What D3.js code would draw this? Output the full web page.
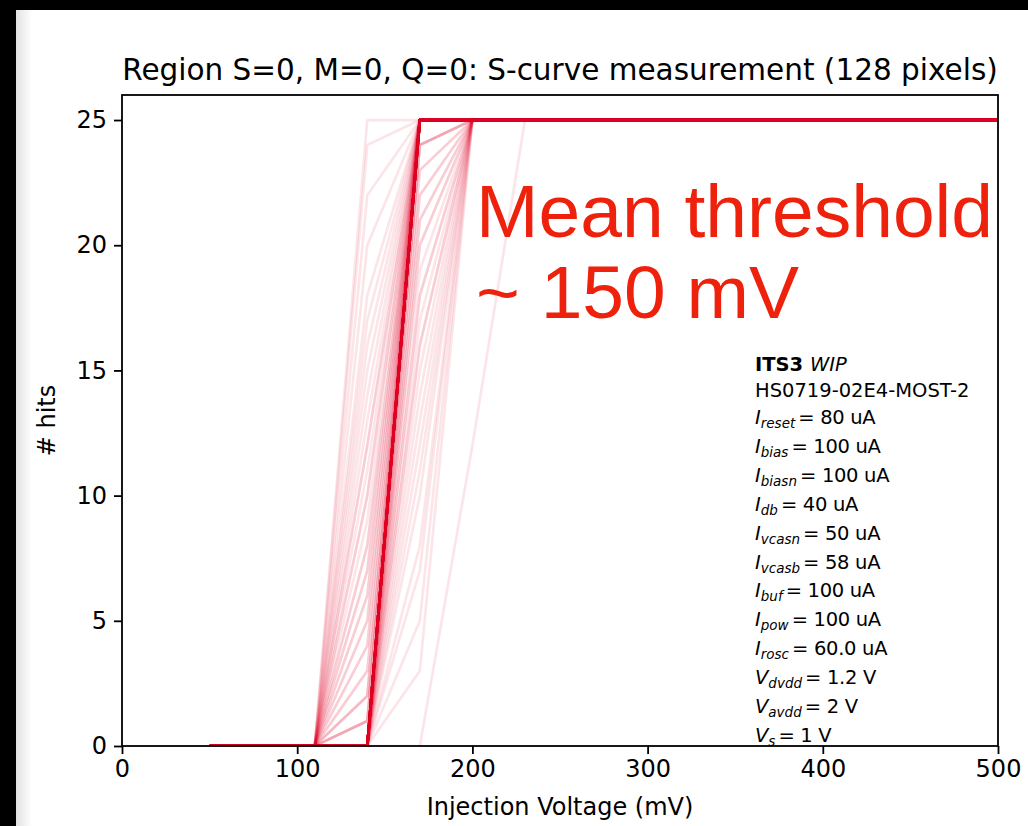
<!DOCTYPE html>
<html>
<head>
<meta charset="utf-8">
<script src="https://cdn.jsdelivr.net/npm/d3@7"></script>
<style>
  html, body { margin: 0; padding: 0; background: #000; }
  svg { display: block; }
  .tick text { font-family: "DejaVu Sans", sans-serif; }
</style>
</head>
<body>
<div id="chart"></div>
<script>
const fullwidth = 1028;
const fullheight = 826;
const margin = {top: 95, left: 122};

// injection voltages scanned (mV)
const voltages = [50, 80, 110, 140, 170, 200, 230, 260, 290, 320, 350, 380, 410, 440, 470, 500];
// hits at the voltages where the pixels switch on; below 110 mV every pixel has 0 hits, above 230 mV all 25
const riseVoltages = [110, 140, 170, 200, 230];
const maxHits = 25;
// pixel response shapes, with the number of pixels sharing each shape
const shapeHits = [
  [0, 0, 25, 25, 25],
  [0, 25, 25, 25, 25], [0, 24, 25, 25, 25], [0, 22, 25, 25, 25], [0, 20, 25, 25, 25],
  [0, 18, 25, 25, 25], [0, 17, 25, 25, 25], [0, 16, 25, 25, 25], [0, 15, 25, 25, 25],
  [0, 14, 25, 25, 25], [0, 13, 25, 25, 25], [0, 12, 25, 25, 25], [0, 11, 25, 25, 25],
  [0, 10, 25, 25, 25], [0, 9, 25, 25, 25], [0, 8, 25, 25, 25], [0, 7, 25, 25, 25],
  [0, 6, 25, 25, 25], [0, 5, 25, 25, 25], [0, 4, 25, 25, 25], [0, 3, 25, 25, 25],
  [0, 2, 25, 25, 25], [0, 1, 25, 25, 25],
  [0, 0, 24, 25, 25], [0, 0, 23, 25, 25], [0, 0, 22, 25, 25], [0, 0, 21, 25, 25],
  [0, 0, 20, 25, 25], [0, 0, 19, 25, 25], [0, 0, 18, 25, 25], [0, 0, 17, 25, 25],
  [0, 0, 16, 25, 25], [0, 0, 15, 25, 25], [0, 0, 14, 25, 25], [0, 0, 13, 25, 25],
  [0, 0, 12, 25, 25], [0, 0, 11, 25, 25], [0, 0, 10, 25, 25], [0, 0, 8, 25, 25],
  [0, 0, 7, 25, 25], [0, 0, 5, 25, 25], [0, 0, 3, 25, 25],
  [0, 0, 0, 12, 25]
];
const shapeCounts = [
  64,
  1, 1, 1, 1,
  1, 1, 1, 1,
  1, 1, 2, 1,
  2, 1, 2, 2,
  2, 2, 2, 2,
  3, 4,
  4, 2, 2, 2,
  2, 1, 2, 1,
  2, 1, 1, 1,
  1, 1, 1, 1,
  1, 1, 1,
  1
];
const xTicks = [0, 100, 200, 300, 400, 500];
const yTicks = [0, 5, 10, 15, 20, 25];

const titleText = "Region S=0, M=0, Q=0: S-curve measurement (128 pixels)";
// info box: [symbol, subscript, value]
const infoParams = [
  ["I", "reset", "= 80 uA"],
  ["I", "bias", "= 100 uA"],
  ["I", "biasn", "= 100 uA"],
  ["I", "db", "= 40 uA"],
  ["I", "vcasn", "= 50 uA"],
  ["I", "vcasb", "= 58 uA"],
  ["I", "buf", "= 100 uA"],
  ["I", "pow", "= 100 uA"],
  ["I", "rosc", "= 60.0 uA"],
  ["V", "dvdd", "= 1.2 V"],
  ["V", "avdd", "= 2 V"],
  ["V", "s", "= 1 V"]
];

// build every pixel's curve
const curves = [];
shapeHits.forEach((h, i) => {
  const pts = voltages.map(v => {
    const k = riseVoltages.indexOf(v);
    if (k >= 0) return [v, h[k]];
    return [v, v < riseVoltages[0] ? 0 : maxHits];
  });
  for (let n = 0; n < shapeCounts[i]; ++n) curves.push(pts);
});

const plotW = 998 - margin.left;
const plotH = 746 - margin.top;

const svg = d3.select("#chart").append("svg")
  .attr("width", fullwidth)
  .attr("height", fullheight);

// screenshot frame: black border and soft shadow on the left
const defs = svg.append("defs");
const shade = defs.append("linearGradient").attr("id", "shade").attr("x1", "0%").attr("x2", "100%");
shade.append("stop").attr("offset", 0).attr("stop-color", "#e2e2e2");
shade.append("stop").attr("offset", 1).attr("stop-color", "#ffffff");
svg.append("rect").attr("x", 16).attr("y", 10).attr("width", fullwidth - 16).attr("height", fullheight - 10).attr("fill", "#fff");
svg.append("rect").attr("x", 16).attr("y", 10).attr("width", 16).attr("height", fullheight - 10).attr("fill", "url(#shade)");

defs.append("clipPath").attr("id", "plotclip")
  .append("rect").attr("width", plotW).attr("height", plotH);

const x = d3.scaleLinear().domain([0, 500]).range([0, plotW]);
const y = d3.scaleLinear().domain([0, 26]).range([plotH, 0]);

const g = svg.append("g").attr("transform", `translate(${margin.left},${margin.top})`);

const line = d3.line().x(d => x(d[0])).y(d => y(d[1]));

g.append("g").attr("clip-path", "url(#plotclip)")
  .selectAll("path")
  .data(curves)
  .enter().append("path")
  .attr("d", line)
  .attr("fill", "none")
  .attr("stroke", "rgb(228, 0, 43)")
  .attr("stroke-opacity", 0.1)
  .attr("stroke-width", 2.7)
  .attr("stroke-linejoin", "round");

// axes
const xAxis = g.append("g").attr("transform", `translate(0,${plotH})`)
  .call(d3.axisBottom(x).tickValues(xTicks).tickSizeOuter(0).tickSize(8).tickPadding(6));
const yAxis = g.append("g")
  .call(d3.axisLeft(y).tickValues(yTicks).tickSizeOuter(0).tickSize(8).tickPadding(7));
[xAxis, yAxis].forEach(a => {
  a.select(".domain").remove();
  a.selectAll(".tick line").attr("stroke", "#000").attr("stroke-width", 1.8);
  a.selectAll(".tick text").attr("fill", "#000").style("font-size", "24px");
});

g.append("rect")
  .attr("width", plotW).attr("height", plotH)
  .attr("fill", "none").attr("stroke", "#000").attr("stroke-width", 1.8);

// title and labels
svg.append("text")
  .attr("x", margin.left + plotW / 2).attr("y", 80)
  .attr("text-anchor", "middle")
  .style("font-family", "DejaVu Sans").style("font-size", "29.5px")
  .text(titleText);

svg.append("text")
  .attr("x", margin.left + plotW / 2).attr("y", 815)
  .attr("text-anchor", "middle")
  .style("font-family", "DejaVu Sans").style("font-size", "24px")
  .text("Injection Voltage (mV)");

svg.append("text")
  .attr("transform", `translate(55,${margin.top + plotH / 2}) rotate(-90)`)
  .attr("text-anchor", "middle")
  .style("font-family", "DejaVu Sans").style("font-size", "24px")
  .text("# hits");

// info box
const info = svg.append("g").attr("transform", "translate(755,0)")
  .style("font-family", "DejaVu Sans").style("font-size", "19.5px").attr("fill", "#000");
const head = info.append("text").attr("y", 371);
head.append("tspan").attr("font-weight", "bold").text("ITS3 ");
head.append("tspan").attr("font-style", "italic").text("WIP");
info.append("text").attr("y", 397).text("HS0719-02E4-MOST-2");
infoParams.forEach(([sym, sub, val], i) => {
  const t = info.append("text").attr("y", 424 + i * 28.9);
  t.append("tspan").attr("font-style", "italic").text(sym);
  t.append("tspan").attr("font-style", "italic").attr("font-size", "13.5px").attr("dy", 4).text(sub);
  t.append("tspan").attr("dy", -4).attr("dx", 3).attr("letter-spacing", "-0.3px").text(val);
});

// annotation
const note = svg.append("g")
  .style("font-family", "Liberation Sans, Arial, sans-serif").style("font-size", "75px")
  .attr("fill", "#ee220c");
note.append("text").attr("x", 476).attr("y", 237).text("Mean threshold");
note.append("text").attr("x", 476).attr("y", 318).text("~ 150 mV");

// top black band
svg.append("rect").attr("width", fullwidth).attr("height", 10).attr("fill", "#000");
</script>
</body>
</html>
